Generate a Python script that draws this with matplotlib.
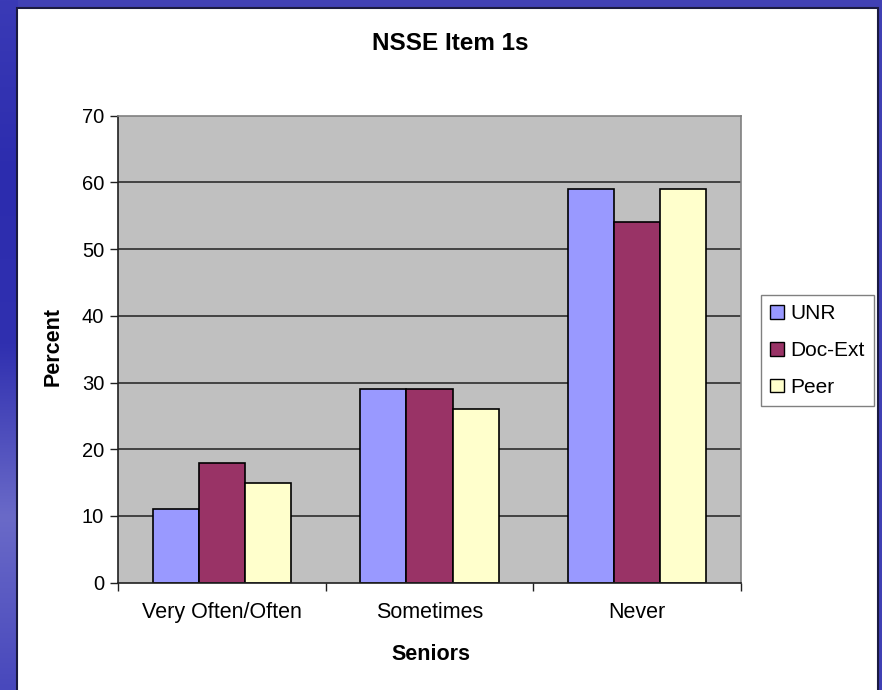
import numpy as np
import matplotlib
matplotlib.use("Agg")
import matplotlib.pyplot as plt
from matplotlib.patches import Rectangle, Patch
from matplotlib.colors import LinearSegmentedColormap

plt.rcParams['font.family'] = ['Liberation Sans', 'DejaVu Sans']

categories = ["Very Often/Often", "Sometimes", "Never"]
series_names = ["UNR", "Doc-Ext", "Peer"]
unr = [11, 29, 59]
doc_ext = [18, 29, 54]
peer = [15, 26, 59]
colors = ["#9999ff", "#993366", "#ffffcc"]
yticks = [0, 10, 20, 30, 40, 50, 60, 70]

W, H = 882, 690
fig = plt.figure(figsize=(W / 100, H / 100), dpi=100)
fig.patch.set_facecolor("#4040b4")

# background: left gradient band
bg = fig.add_axes([0, 0, 1, 1], zorder=-10)
bg.set_xlim(0, W)
bg.set_ylim(H, 0)
bg.axis("off")
grad = np.linspace(0, 1, 256).reshape(-1, 1)
cmap = LinearSegmentedColormap.from_list("b", ["#3a3ab6", "#2c2cae", "#3030b0", "#6a6ac8", "#4848bc"])
bg.imshow(grad, cmap=cmap, extent=[0, 18, H, 0], aspect="auto", zorder=0)
bg.add_patch(Rectangle((17, 8), 861, 700, facecolor="white", edgecolor="#1a1a40", linewidth=1.5, zorder=1))

ax = fig.add_axes([118 / W, 1 - 582.7 / H, (741 - 118) / W, (582.7 - 115.7) / H])
ax.set_facecolor("#c0c0c0")

x = np.arange(len(categories))
bw = 1 / 4.5
for i, (vals, name) in enumerate(zip([unr, doc_ext, peer], series_names)):
    ax.bar(x + (i - 1) * bw, vals, width=bw, color=colors[i], edgecolor="black",
           linewidth=1.2, label=name, zorder=3)

ax.set_xlim(-0.5, len(categories) - 0.5)
ax.set_ylim(0, 70)
ax.set_yticks(yticks)
ax.set_yticklabels([str(v) for v in yticks], fontsize=14.5)
for v in yticks[1:-1]:
    ax.axhline(v, color="#202020", linewidth=1.1, zorder=1)

ax.set_xticks(np.arange(len(categories) + 1) - 0.5, minor=False)
ax.set_xticklabels([])
ax.set_xticks(x, minor=True)
ax.set_xticklabels(categories, minor=True, fontsize=15.5)
ax.tick_params(axis="x", which="minor", length=0, pad=14)
ax.tick_params(axis="x", which="major", length=6, width=1, direction="out", color="#202020")
ax.tick_params(axis="y", length=6, width=1, direction="out", color="#202020", pad=4)

for s in ["top", "right"]:
    ax.spines[s].set_color("#808080")
    ax.spines[s].set_linewidth(1.2)
for s in ["left", "bottom"]:
    ax.spines[s].set_color("#202020")
    ax.spines[s].set_linewidth(1.2)
ax.spines["bottom"].set_zorder(4)

fig.text(450 / W, 1 - 43 / H, "NSSE Item 1s", ha="center", va="center", fontsize=17.5, fontweight="bold")
fig.text(431 / W, 1 - 654 / H, "Seniors", ha="center", va="center", fontsize=15.5, fontweight="bold")
fig.text(53.5 / W, 1 - 346 / H, "Percent", ha="center", va="center", rotation=90, fontsize=15.5, fontweight="bold")

handles = [Patch(facecolor=c, edgecolor="black", linewidth=1.0) for c in colors]
leg = fig.legend(handles, series_names, loc="upper left",
                 bbox_to_anchor=(761 / W, 1 - 295 / H), fontsize=15,
                 frameon=True, fancybox=False, edgecolor="#606060",
                 handlelength=0.65, handleheight=0.65, handletextpad=0.3,
                 borderpad=0.45, labelspacing=0.85, borderaxespad=0)
leg.get_frame().set_linewidth(1.0)

fig.savefig("out.png", dpi=100, facecolor=fig.get_facecolor())
